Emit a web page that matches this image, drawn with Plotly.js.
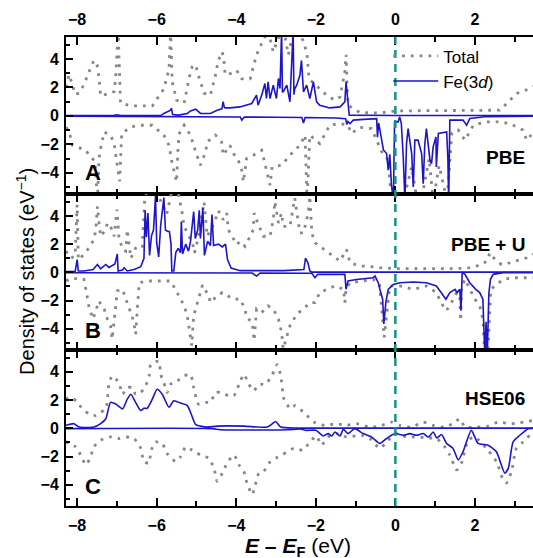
<!DOCTYPE html>
<html><head><meta charset="utf-8">
<script src="https://cdn.plot.ly/plotly-3.0.1.min.js"></script>
<style>html,body{margin:0;padding:0;background:#fff}#chart{width:533px;height:558px}</style>
</head><body><div id="chart"></div>
<script>
// ---------- Panel A : PBE ----------
const aTotUpX = [-8.28,-8.2,-8.12,-8.05,-7.95,-7.83,-7.7,-7.58,-7.5,-7.45,-7.41,-7.28,-7.07,-7.03,-7.0,-6.97,-6.91,-6.65,-6.4,-6.11,-5.82,-5.69,-5.65,-5.61,-5.5,-5.31,-5.19,-5.11,-5.02,-4.94,-4.81,-4.65,-4.52,-4.45,-4.35,-4.31,-4.28,-4.1,-3.99,-3.86,-3.65,-3.57,-3.49,-3.36,-3.2,-3.07,-2.94,-2.8,-2.69,-2.6,-2.45,-2.3,-2.22,-2.17,-2.06,-1.9,-1.73,-1.52,-1.39,-1.27,-1.24,-1.21,-1.19,-0.89,-0.39,0.0,0.5,1.0,1.5,2.0,2.5,2.62,2.71,3.05,3.39,3.46];
const aTotUpY = [2.0,2.9,2.2,1.5,1.6,2.2,3.1,3.9,3.6,2.7,1.4,1.5,1.7,2.7,4.3,6.0,0.9,0.7,0.7,0.7,1.9,3.3,6.0,2.4,1.1,0.9,2.6,3.45,3.6,2.75,1.6,1.45,2.9,3.9,4.5,3.9,2.9,3.0,3.2,2.6,2.6,3.45,4.3,5.1,6.0,4.5,5.5,6.0,4.3,5.5,6.0,5.2,4.3,2.6,2.3,1.9,1.46,1.1,1.34,3.1,4.3,2.0,0.75,0.23,0.2,0.35,0.35,0.35,0.35,0.35,0.35,0.4,0.63,1.58,1.93,2.1];
const aTotDnX = [-8.28,-8.2,-8.12,-8.0,-7.78,-7.7,-7.55,-7.49,-7.45,-7.41,-7.32,-7.16,-7.07,-6.99,-6.93,-6.88,-6.65,-6.4,-6.11,-5.82,-5.69,-5.61,-5.5,-5.46,-5.43,-5.31,-5.15,-5.02,-4.9,-4.77,-4.73,-4.52,-4.37,-4.33,-4.16,-4.07,-3.95,-3.86,-3.82,-3.74,-3.57,-3.36,-3.24,-3.15,-3.1,-2.86,-2.61,-2.4,-2.27,-2.22,-2.15,-1.9,-1.65,-1.39,-1.19,-1.1,-0.9,-0.6,-0.47,-0.35,-0.18,-0.14,-0.1,0.2,0.41,0.45,0.55,0.7,0.85,0.95,1.1,1.3,1.42,1.58,1.75,1.96,2.29,2.58,2.88,3.21,3.3,3.46];
const aTotDnY = [-0.8,-1.1,-2.07,-2.2,-2.42,-2.77,-3.2,-6,-3.0,-2.3,-1.13,-1.36,-1.95,-3.5,-4.6,-1.24,-0.77,-0.66,-0.66,-1.36,-2.07,-3.36,-4.65,-2.0,-1.24,-0.66,-1.36,-2.54,-3.47,-2.54,-1.83,-1.36,-1.83,-2.77,-2.07,-2.65,-3.12,-3.83,-4.65,-3.0,-2.77,-2.42,-3.94,-4.88,-3.6,-3.47,-2.65,-2.07,-1.36,-6,-1.36,-1.95,-0.66,-0.54,-0.66,-1.24,-0.8,-0.9,-1.71,-2.5,-3.12,-4.53,-6,-6,-3.59,-4.3,-6,-5.23,-3,-6,-3.5,-6,-1.2,-1.0,-1.71,-0.66,-0.42,-0.42,-0.54,-1.0,-1.71,-1.2];
const aFeUpX = [-8.28,-7.1,-7.0,-6.9,-5.9,-5.82,-5.65,-5.63,-5.6,-5.45,-5.23,-5.15,-5.02,-4.9,-4.65,-4.48,-4.36,-4.33,-4.3,-4.28,-4.16,-3.91,-3.61,-3.49,-3.45,-3.36,-3.28,-3.24,-3.2,-3.15,-3.07,-2.99,-2.94,-2.9,-2.86,-2.84,-2.82,-2.73,-2.65,-2.57,-2.55,-2.53,-2.48,-2.4,-2.36,-2.31,-2.23,-2.15,-2.06,-1.98,-1.9,-1.65,-1.39,-1.27,-1.24,-1.2,-1.16,0,1,2,3.46];
const aFeUpY = [0.02,0.02,0.08,0.02,0.02,0.17,0.4,0.55,0.1,0.05,0.17,0.35,0.47,0.17,0.17,0.4,0.5,1.0,0.6,0.56,0.56,0.63,0.87,1.46,0.75,1.46,2.28,1.22,2.39,1.22,2.16,1.22,2.63,1.92,6,1.7,1.69,2.16,0.99,6,1.5,1.9,2.16,2.86,3.9,1.69,2.16,1.22,2.39,0.99,0.75,0.56,0.63,0.99,2.39,0.99,0.05,0.03,0.03,0.03,0.03];
const aFeDnX = [-8.28,-7,-6,-5,-4.5,-3.9,-3.86,-3.8,-3,-2.35,-2.31,-2.27,-1.5,-1.25,-1.22,-1.19,-1.14,-1.06,-0.8,-0.47,-0.45,-0.42,-0.3,-0.22,-0.18,-0.14,-0.1,-0.05,-0.02,0.07,0.11,0.15,0.2,0.24,0.28,0.32,0.41,0.45,0.49,0.57,0.66,0.7,0.74,0.78,0.87,0.91,0.95,1.02,1.03,1.08,1.29,1.32,1.34,1.37,1.7,1.79,1.87,2.3,3.46];
const aFeDnY = [-0.02,-0.04,-0.05,-0.07,-0.07,-0.08,-0.3,-0.08,-0.1,-0.12,-0.5,-0.12,-0.15,-0.2,-0.6,-0.4,-0.55,-0.3,-0.25,-0.2,-1.5,-0.5,-2.4,-2.65,-3.83,-2.7,-4.8,-6,-0.42,-0.42,-0.07,-0.54,-3,-6,-2,-0.9,-2.65,-5,-1.71,-1.71,-2.65,-4.77,-2,-0.9,-3.12,-3.36,-2.18,-1.48,-3.6,-1.24,-1.13,-3,-6,-0.3,-0.3,-0.66,-0.19,-0.05,-0.03];

// ---------- Panel B : PBE + U ----------
const bTotUpX = [-8.28,-8.15,-8.05,-8.0,-7.97,-7.83,-7.7,-7.58,-7.53,-7.49,-7.45,-7.41,-7.28,-7.24,-7.16,-7.07,-7.0,-6.95,-6.86,-6.78,-6.74,-6.65,-6.5,-6.36,-6.3,-6.2,-6.05,-5.9,-5.75,-5.6,-5.45,-5.36,-5.31,-5.19,-5.1,-5.05,-4.95,-4.81,-4.73,-4.6,-4.52,-4.47,-4.39,-4.33,-4.24,-4.2,-4.07,-3.99,-3.9,-3.78,-3.65,-3.57,-3.55,-3.49,-3.32,-3.15,-3.07,-3.03,-2.94,-2.86,-2.82,-2.65,-2.53,-2.4,-2.31,-2.19,-2.15,-2.1,-2.02,-1.9,-1.73,-1.56,-1.39,-1.23,-1.14,-0.89,-0.64,-0.39,0,0.5,1.0,1.5,1.87,2.2,2.33,2.37,2.54,2.67,2.88,3.04,3.3,3.46];
const bTotUpY = [1.5,1.0,1.2,4.8,0.9,1.27,1.74,2.32,3.03,4.67,3.5,2.56,3.03,3.5,3.26,2.56,4.44,2.5,1.62,1.5,3.03,1.0,1.9,1.85,5.3,6,6,5.0,4.1,6,5.5,4.2,3.26,2.56,2.09,1.38,2.5,5.0,2.56,3.26,3.73,4.35,4.2,3.73,4.2,3.03,2.32,1.97,2.2,1.85,2.56,3.03,4.2,3.73,2.56,2.56,3.73,5.02,3.5,4.2,3.26,3.26,5.26,2.8,2.8,4.2,5.4,2.8,2.09,1.85,1.5,1.15,0.8,1.62,0.68,0.45,0.42,0.33,0.26,0.26,0.26,0.26,0.33,0.56,0.92,1.38,0.8,0.56,0.68,0.8,1.03,1.3];
const bTotDnX = [-8.28,-8.1,-7.95,-7.83,-7.78,-7.74,-7.7,-7.6,-7.45,-7.41,-7.32,-7.24,-7.16,-7.12,-7.03,-6.99,-6.86,-6.78,-6.7,-6.62,-6.57,-6.53,-6.44,-6.24,-5.99,-5.65,-5.44,-5.31,-5.23,-5.16,-5.12,-5.07,-4.98,-4.85,-4.69,-4.65,-4.48,-4.35,-4.07,-3.9,-3.78,-3.74,-3.6,-3.55,-3.49,-3.36,-3.2,-3.07,-2.94,-2.86,-2.82,-2.65,-2.48,-2.27,-2.15,-2.02,-1.9,-1.73,-1.52,-1.3,-1.27,-1.24,-1.14,-0.81,-0.56,-0.4,-0.31,-0.28,-0.14,0.11,0.45,0.78,1.03,1.15,1.28,1.41,1.54,1.62,1.64,1.67,1.75,2.0,2.12,2.2,2.25,2.32,2.4,2.71,2.96,3.21,3.46];
const bTotDnY = [-0.6,-0.4,-0.5,-0.49,-1.2,-1.9,-2.49,-3.3,-2.02,-2.25,-2.6,-3.31,-3.78,-4.72,-2.37,-1.31,-1.2,-1.9,-2.49,-3.08,-3.66,-4.37,-0.73,-0.61,-0.61,-0.61,-1.67,-2.37,-3.08,-4.25,-5.19,-3.08,-2.14,-0.9,-1.67,-2.14,-1.67,-1.43,-1.9,-1.9,-2.6,-3.19,-3.54,-4.84,-2.6,-2.84,-2.37,-2.6,-3.31,-4.25,-5.42,-3.78,-2.96,-2.49,-2.14,-2.14,-1.43,-1.2,-0.96,-1.2,-2.14,-1.2,-0.73,-0.61,-0.49,-0.8,-3.9,-4.6,-0.96,-0.96,-1.2,-0.96,-1.43,-2.14,-2.72,-2.14,-1.43,-1.6,-3.43,-1.0,-0.49,-1.9,-2.37,-3.31,-6,-6,-1.2,-0.49,-0.38,-0.38,-0.38];
const bFeUpX = [-8.28,-8.05,-8.0,-7.97,-7.83,-7.6,-7.49,-7.41,-7.28,-7.2,-7.05,-6.99,-6.97,-6.86,-6.82,-6.74,-6.57,-6.4,-6.32,-6.29,-6.26,-6.22,-6.18,-6.13,-6.08,-6.03,-6.0,-5.95,-5.9,-5.82,-5.78,-5.72,-5.68,-5.64,-5.62,-5.57,-5.52,-5.46,-5.4,-5.38,-5.35,-5.27,-5.2,-5.15,-5.07,-5.03,-4.97,-4.93,-4.9,-4.84,-4.8,-4.72,-4.65,-4.61,-4.57,-4.45,-4.35,-4.27,-4.22,-4.13,-3.9,-3.5,-3.3,-3.2,-2.8,-2.3,-2.26,-2.2,-2.15,-2.1,0,3.46];
const bFeUpY = [0.05,0.05,0.9,0.1,0.1,0.2,0.56,0.25,0.56,0.35,0.6,1.3,0.1,0.16,0.33,0.1,0.2,0.4,1.0,4.4,2.5,4.2,1.2,2.6,3.0,5.4,2.1,1.1,3.3,5.3,3.0,2.9,2.9,2.0,0.1,0.1,1.4,1.7,1.4,3.6,1.3,2.0,1.5,2.2,4.3,2.4,3.0,4.4,2.4,4.55,1.2,2.2,1.9,4.1,1.9,2.0,1.8,2.0,0.9,0.3,0.12,0.12,0.15,0.1,0.12,0.2,1.0,0.7,0.1,0.02,0.02,0.02];
const bFeDnX = [-8.28,-5,-3.6,-3.49,-3.4,-2.1,-2.02,-1.95,-1.5,-1.27,-1.24,-1.19,-0.98,-0.56,-0.51,-0.43,-0.39,-0.32,-0.29,-0.24,-0.18,-0.05,0.11,0.45,0.78,1.03,1.15,1.27,1.37,1.5,1.55,1.62,1.65,1.68,1.75,1.87,2.02,2.12,2.2,2.25,2.28,2.31,2.35,2.39,2.46,2.71,3.46];
const bFeDnY = [-0.03,-0.04,-0.05,-0.26,-0.05,-0.06,-0.38,-0.14,-0.14,-0.14,-1.2,-0.61,-0.5,-0.38,-0.26,-0.73,-1.2,-1.9,-3.66,-2.14,-1.2,-0.85,-0.73,-0.68,-0.73,-0.96,-1.43,-1.9,-1.43,-1.2,-1.43,-1.2,-2.72,-0.02,-0.14,-0.73,-1.2,-1.43,-1.9,-6,-3.5,-6,-1.5,-0.49,-0.14,-0.02,-0.02];

// ---------- Panel C : HSE06 ----------
const cTotUpX = [-8.29,-8.15,-7.99,-7.87,-7.7,-7.53,-7.41,-7.28,-7.2,-7.12,-6.95,-6.86,-6.74,-6.61,-6.53,-6.4,-6.28,-6.19,-6.15,-5.95,-5.9,-5.82,-5.74,-5.65,-5.48,-5.32,-5.15,-5.07,-4.95,-4.78,-4.65,-4.52,-4.4,-4.18,-4.06,-3.93,-3.81,-3.68,-3.56,-3.43,-3.26,-3.09,-2.97,-2.88,-2.8,-2.63,-2.52,-2.27,-2.02,-1.77,-1.48,-1.23,-0.98,-0.64,-0.39,-0.1,0.11,0.41,0.7,0.95,1.24,1.45,1.62,1.75,2.04,2.33,2.58,2.88,3.13,3.34,3.46];
const cTotUpY = [2.07,2.2,1.84,1.38,1.03,0.91,1.14,1.38,3.12,3.71,3.24,2.42,2.89,2.89,2.42,2.54,3.01,3.71,4.52,4.76,3.82,3.24,2.54,3.12,3.36,3.71,3.82,2.89,1.72,1.84,1.84,2.54,2.54,2.31,2.31,3.12,3.82,3.12,2.66,3.12,3.12,3.82,4.52,3.71,2.07,1.38,1.61,1.03,0.4,0.21,0.33,0.21,0.33,0.09,0.16,0.44,0.21,0.09,0.44,0.21,0.09,0.33,0.68,0.09,0.09,0.16,0.44,0.33,0.4,0.49,0.56];
const cTotDnX = [-8.29,-8.04,-7.91,-7.78,-7.66,-7.58,-7.41,-7.16,-6.95,-6.78,-6.57,-6.4,-6.32,-6.19,-6.15,-6.03,-5.86,-5.74,-5.52,-5.4,-5.27,-5.11,-4.9,-4.69,-4.56,-4.48,-4.35,-4.23,-4.06,-3.93,-3.81,-3.73,-3.6,-3.52,-3.43,-3.31,-3.18,-3.01,-2.85,-2.72,-2.55,-2.32,-2.15,-1.98,-1.86,-1.69,-1.48,-1.23,-0.85,-0.64,-0.39,-0.22,0.03,0.28,0.53,0.83,1.04,1.24,1.37,1.54,1.66,1.83,2.0,2.29,2.54,2.71,2.79,2.92,3.04,3.21,3.38,3.46];
const cTotDnY = [-0.96,-1.31,-1.89,-2.59,-2.0,-1.31,-0.84,-0.61,-0.72,-0.61,-0.72,-1.42,-2.35,-2.47,-1.66,-0.96,-1.07,-1.77,-2.35,-2.0,-1.31,-1.54,-1.89,-2.12,-2.82,-3.75,-3.17,-2.47,-1.89,-2.59,-3.05,-3.87,-4.69,-3.99,-3.17,-3.05,-2.47,-2.12,-1.89,-1.66,-1.42,-1.54,-0.96,-0.54,-1.19,-0.61,-0.37,-0.61,-0.49,-0.72,-1.42,-0.96,-0.37,-0.61,-0.61,-0.68,-0.72,-1.31,-1.89,-2.94,-2.47,-0.84,-0.61,-1.42,-2.35,-3.64,-3.87,-3.05,-1.42,-0.96,-0.49,-0.37];
const cFeUpX = [-8.29,-8.08,-7.95,-7.58,-7.41,-7.28,-7.16,-7.03,-6.86,-6.74,-6.65,-6.53,-6.4,-6.32,-6.24,-6.11,-5.99,-5.86,-5.69,-5.57,-5.4,-5.23,-5.15,-5.02,-4.9,-4.73,-4.48,-3.81,-3.22,-3.09,-3.01,-2.88,-2.47,-2.0,3.46];
const cFeUpY = [0.21,0.33,0.09,0.09,0.33,0.68,1.84,1.72,1.38,2.07,2.42,1.84,1.26,1.42,1.42,2.07,2.77,2.42,1.49,1.96,1.79,1.61,1.14,0.26,0.16,0.09,0.16,0.16,0.09,0.33,0.49,0.09,0.02,0.02,0.02];
const cFeDnX = [-8.29,-4.6,-4.4,-2.7,-2.4,-2.23,-2.0,-1.81,-1.69,-1.6,-1.52,-1.39,-1.31,-1.19,-1.02,-0.81,-0.6,-0.39,-0.22,-0.01,0.2,0.36,0.53,0.7,0.83,0.95,1.04,1.16,1.29,1.45,1.58,1.7,1.91,2.08,2.33,2.54,2.75,2.84,2.96,3.13,3.34,3.46];
const cFeDnY = [-0.02,-0.02,-0.1,-0.1,-0.05,-0.14,-0.14,-0.54,-0.37,-0.54,-0.26,-0.54,-0.07,-0.37,-0.02,-0.37,-0.61,-1.07,-0.72,-0.37,-0.49,-0.37,-0.49,-0.37,-0.61,-0.26,-0.68,-0.44,-1.07,-1.42,-2.24,-1.66,-0.14,-1.07,-1.19,-1.66,-3.17,-2.82,-0.96,-0.49,-0.02,0];

const xTickVals = [-8,-6,-4,-2,0,2];
const yTickVals = [-4,-2,0,2,4];
const methodNames = ['PBE','PBE + U','HSE06'];
const panelLetters = ['A','B','C'];
const legendNames = ['Total','Fe(3<i>d</i>)'];

const FONT = 'Liberation Sans, Arial, Helvetica, sans-serif';
const GRAY = '#878787', BLUE = '#1e14c8', TEAL = '#17918c';

const panels = [
  {xa:'x', ya:'y',  tu:[aTotUpX,aTotUpY], td:[aTotDnX,aTotDnY], fu:[aFeUpX,aFeUpY], fd:[aFeDnX,aFeDnY], shape:'linear'},
  {xa:'x2',ya:'y2', tu:[bTotUpX,bTotUpY], td:[bTotDnX,bTotDnY], fu:[bFeUpX,bFeUpY], fd:[bFeDnX,bFeDnY], shape:'linear'},
  {xa:'x3',ya:'y3', tu:[cTotUpX,cTotUpY], td:[cTotDnX,cTotDnY], fu:[cFeUpX,cFeUpY], fd:[cFeDnX,cFeDnY], shape:'spline'}
];

const traces = [];
panels.forEach((p,i)=>{
  [p.tu,p.td].forEach((s,k)=>traces.push({
    type:'scatter', mode:'lines', x:s[0], y:s[1], xaxis:p.xa, yaxis:p.ya,
    line:{color:GRAY, width:2.8, dash:'2.8px,6px', shape:p.shape, smoothing:0.6},
    name:legendNames[0], showlegend:(i===0&&k===0), legendrank:1
  }));
});
panels.forEach((p,i)=>{
  [p.fu,p.fd].forEach((s,k)=>traces.push({
    type:'scatter', mode:'lines', x:s[0], y:s[1], xaxis:p.xa, yaxis:p.ya,
    line:{color:BLUE, width:1.6, shape:p.shape, smoothing:0.6},
    name:legendNames[1], showlegend:(i===0&&k===0), legendrank:2
  }));
});

const tickFont = {family:FONT, size:16, color:'#000', weight:'bold'};
function xax(extra){
  return Object.assign({
    range:[-8.28,3.46], tickvals:xTickVals, ticks:'inside', ticklen:8, tickwidth:2, tickcolor:'#000',
    showline:true, linewidth:2, linecolor:'#000', mirror:'allticks', showgrid:false, zeroline:false,
    minor:{dtick:1, tick0:0, ticks:'inside', ticklen:5, tickwidth:2, tickcolor:'#000', showgrid:false},
    tickfont:tickFont, ticklabelstandoff:4
  }, extra);
}
function yax(dom){
  return {
    domain:dom, range:[-5.5,5.55], tickvals:yTickVals, ticks:'inside', ticklen:7, tickwidth:2, tickcolor:'#000',
    showline:true, linewidth:2, linecolor:'#000', mirror:false, showgrid:false, zeroline:false,
    minor:{dtick:1, tick0:0, ticks:'inside', ticklen:4, tickwidth:2, tickcolor:'#000', showgrid:false},
    tickfont:tickFont, ticklabelstandoff:2
  };
}

const dA=[0.6652,1], dB=[0.3326,0.6652], dC=[0,0.3326];
const ann = [];
const letterY = [-4.0,-4.1,-4.15];
const nameY = [-2.9,2.0,2.08];
['y','y2','y3'].forEach((ya,i)=>{
  const xa = ['x','x2','x3'][i];
  ann.push({xref:xa, yref:ya, x:-7.6, y:letterY[i], text:'<b>'+panelLetters[i]+'</b>', showarrow:false,
    font:{family:FONT,size:22,color:'#000'}, xanchor:'center', yanchor:'middle'});
  ann.push({xref:xa, yref:ya, x:3.32, y:nameY[i], text:'<b>'+methodNames[i]+'</b>', showarrow:false,
    font:{family:FONT,size:19,color:'#000'}, xanchor:'right', yanchor:'middle'});
});
ann.push({xref:'paper', yref:'paper', x:-0.088, y:0.501, textangle:-90, showarrow:false,
  text:'Density of states (eV<sup>\u22121</sup>)', font:{family:FONT,size:20,color:'#000'}, xanchor:'center', yanchor:'middle'});
ann.push({xref:'paper', yref:'paper', x:0.497, y:-0.088, showarrow:false,
  text:'<b><i>E</i> \u2013 <i>E</i><sub>F</sub></b> (eV)', font:{family:FONT,size:21,color:'#000'}, xanchor:'center', yanchor:'middle'});

const layout = {
  width:533, height:558, margin:{l:66, r:0, t:37, b:52},
  paper_bgcolor:'#fff', plot_bgcolor:'#fff', font:{family:FONT, color:'#000'},
  xaxis: xax({anchor:'y', side:'top'}),
  xaxis2: xax({anchor:'y2', showticklabels:false}),
  xaxis3: xax({anchor:'y3', side:'bottom'}),
  yaxis: yax(dA), yaxis2: yax(dB), yaxis3: yax(dC),
  showlegend:true,
  legend:{x:0.69, y:0.997, xanchor:'left', yanchor:'top', bgcolor:'rgba(0,0,0,0)', borderwidth:0,
    font:{family:FONT, size:17, color:'#000'}, itemwidth:45, tracegroupgap:0, traceorder:'normal'},
  shapes:[{type:'line', xref:'x', yref:'paper', x0:0, x1:0, y0:0, y1:1, layer:'above',
    line:{color:TEAL, width:2.5, dash:'8px,6px'}}],
  annotations: ann
};
Plotly.newPlot('chart', traces, layout, {staticPlot:true, displayModeBar:false});
</script>
</body></html>
